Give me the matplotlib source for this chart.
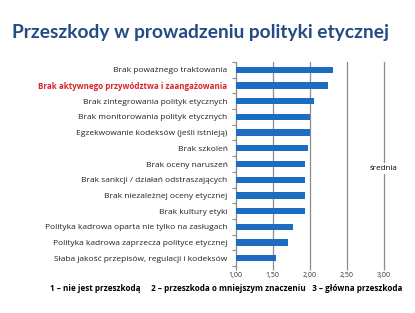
import matplotlib.pyplot as plt
import numpy as np

labels = [
    "Brak poważnego traktowania",
    "Brak aktywnego przywództwa i zaangażowania",
    "Brak zintegrowania polityk etycznych",
    "Brak monitorowania polityk etycznych",
    "Egzekwowanie kodeksów (jeśli istnieją)",
    "Brak szkoleń",
    "Brak oceny naruszeń",
    "Brak sankcji / działań odstraszających",
    "Brak niezależnej oceny etycznej",
    "Brak kultury etyki",
    "Polityka kadrowa oparta nie tylko na zasługach",
    "Polityka kadrowa zaprzecza polityce etycznej",
    "Słaba jakość przepisów, regulacji i kodeksów",
]
values = [2.31, 2.24, 2.05, 2.00, 2.00, 1.97, 1.93, 1.93, 1.93, 1.93, 1.77, 1.70, 1.54]
xticks = [1.0, 1.5, 2.0, 2.5, 3.0]
xtick_labels = ["1,00", "1,50", "2,00", "2,50", "3,00"]

blue = "#1c6cc2"
grey = "#8c8c8c"

fig = plt.figure(figsize=(4.15, 3.13), dpi=100)
fig.text(0.029, 0.895, "Przeszkody w prowadzeniu polityki etycznej",
         fontsize=13.8, fontweight="bold", color="#244b84", family="Lato",
         va="center", ha="left")

ax = fig.add_axes([0.568, 0.150, 0.357, 0.652])
y = np.arange(len(labels))
ax.barh(y, [v - 1.0 for v in values], left=1.0, height=0.4, color=blue, zorder=3)

ax.set_xlim(1.0, 3.0)
ax.set_ylim(12.5, -0.5)
ax.set_xticks(xticks)
ax.set_xticklabels(xtick_labels, fontsize=5, color="#333333", family="Open Sans")
ax.tick_params(axis="x", length=3, color=grey, width=0.9, pad=1.5)
ax.set_yticks(y)
ax.set_yticklabels(labels, fontsize=6.0, family="Open Sans", color="#222222")
ax.tick_params(axis="y", length=0, pad=6)
ax.set_yticks(np.arange(-0.5, 13, 1), minor=True)
ax.tick_params(axis="y", which="minor", length=3, color=grey, width=0.8)
red_label = ax.get_yticklabels()[1]
red_label.set_color("#d8232a")
red_label.set_fontweight("bold")
red_label.set_fontsize(5.8)

for xt in xticks[1:]:
    ax.axvline(xt, color=grey, linewidth=0.9, zorder=0, clip_on=False)
for s in ["top", "right", "bottom"]:
    ax.spines[s].set_visible(False)
ax.spines["left"].set_color(grey)
ax.spines["left"].set_linewidth(0.9)

ax.text(3.0, 6.3, "średnia", fontsize=5.8, family="Open Sans", ha="center", va="center",
        bbox=dict(facecolor="white", edgecolor="none", pad=1.5), zorder=4)

fig.text(0.12, 0.077,
         "1 – nie jest przeszkodą     2 – przeszkoda o mniejszym znaczeniu   3 – główna przeszkoda",
         fontsize=5.85, fontweight="bold", family="Open Sans", ha="left", va="center")

fig.savefig("out.png", dpi=100)
